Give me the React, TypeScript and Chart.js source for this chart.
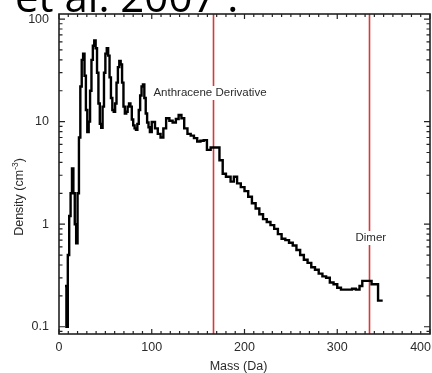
import React, { useEffect, useRef } from "react";
import { Chart, registerables } from "chart.js";

Chart.register(...registerables);

// Left bin edges (Da) of the mass histogram and the density in each bin (cm^-3)
const massBinEdges = [
  6.5, 8.0, 9.5, 11.0, 12.5, 14.0, 15.5, 17.0, 18.5, 20.0, 21.5, 23.0, 24.5, 26.0, 27.5, 29.0,
  30.5, 32.0, 33.5, 35.0, 36.5, 38.0, 39.5, 41.0, 42.5, 44.0, 45.5, 47.0, 48.5, 50.0, 51.5, 53.0,
  54.5, 56.0, 57.5, 59.0, 60.5, 62.0, 63.5, 65.0, 66.5, 68.0, 69.5, 71.0, 72.5, 74.0, 75.5, 77.0,
  78.5, 80.0, 81.5, 83.0, 84.5, 86.0, 87.5, 89.0, 90.5, 92.0, 93.5, 95.0, 96.5, 98.0, 100.0, 103.5,
  106.5, 109.5, 112.5, 115.5, 119.0, 122.5, 126.0, 129.0, 132.0, 135.0, 138.5, 142.0, 145.5, 149.0,
  152.5, 156.0, 159.5, 163.5, 173.0, 176.5, 180.0, 185.0, 188.5, 192.0, 196.0, 200.0, 204.0, 208.0,
  212.0, 216.0, 220.0, 224.0, 228.0, 232.0, 236.0, 240.0, 244.0, 248.0, 252.0, 256.0, 260.0, 264.0,
  268.0, 272.0, 276.0, 280.0, 284.0, 288.0, 292.0, 296.0, 300.0, 304.0, 310.0, 316.0, 320.0, 324.0,
  327.0, 337.0, 344.0,
];
const densityValues = [
  0.25, 0.1, 0.5, 1.2, 2.0, 3.5, 2.0, 1.0, 0.65, 2.0, 7, 22, 40, 46, 28, 13,
  7.9, 10, 20, 40, 55, 62, 52, 30, 15, 9.5, 8.7, 14, 30, 46, 52, 44,
  27, 17, 13, 12.5, 15, 24, 34, 39, 36, 24, 14, 12, 12.5, 14, 15, 14,
  10.5, 9.2, 8.6, 8.3, 9.5, 13, 18, 22, 23, 17, 12, 9.8, 8.8, 7.9, 9.9, 8.6,
  7.6, 7.0, 8.6, 10.8, 10.2, 9.8, 10.6, 11.6, 10.8, 8.6, 7.6, 7.3, 6.9, 6.4,
  6.5, 6.6, 5.3, 5.6, 4.2, 3.1, 2.9, 2.6, 2.9, 2.5, 2.3, 2.1, 1.85, 1.6,
  1.42, 1.25, 1.12, 1.05, 0.98, 0.9, 0.8, 0.72, 0.7, 0.66, 0.62, 0.56, 0.5, 0.45,
  0.42, 0.38, 0.36, 0.33, 0.31, 0.3, 0.27, 0.26, 0.24, 0.23, 0.23, 0.235, 0.23, 0.25,
  0.28, 0.26, 0.18,
];
const lastBinEnd = 349;

// Reference masses marked with vertical lines
const markerMasses = [166.5, 334];
const markerLabels = ["Anthracene Derivative", "Dimer"];

// Axis ticks
const massTicks = [0, 100, 200, 300, 400];
const densityTicks = [0.1, 1, 10, 100];
const massRange = [0, 400];
const densityRange = [0.085, 112];

const headingText = "et al. 2007 .";
const xTitle = "Mass (Da)";
const yTitleMain = "Density (cm";
const yTitleSup = "-3";

const SANS = "'Liberation Sans', Arial, sans-serif";
const TEXT = "#2b2b2b";
const AXIS = "#222";
const MARKER = "#d8383a";

const histogramPoints = () => {
  const pts = massBinEdges.map((m, i) => ({ x: m, y: densityValues[i] }));
  pts.push({ x: lastBinEnd, y: densityValues[densityValues.length - 1] });
  return pts;
};

const decorPlugin = {
  id: "decor",
  beforeDatasetsDraw(chart: any) {
    const { ctx, chartArea: a, scales } = chart;
    const xs = scales.x;
    ctx.save();
    // marker lines
    ctx.strokeStyle = MARKER;
    ctx.lineWidth = 1.6;
    markerMasses.forEach((m) => {
      const px = Math.round(xs.getPixelForValue(m)) + 0.5;
      ctx.beginPath();
      ctx.moveTo(px, a.top);
      ctx.lineTo(px, a.bottom);
      ctx.stroke();
    });
    // marker labels on white boxes
    ctx.font = `11.5px ${SANS}`;
    ctx.textBaseline = "middle";
    const p0 = xs.getPixelForValue(markerMasses[0]);
    const p1 = xs.getPixelForValue(markerMasses[1]);
    const w0 = ctx.measureText(markerLabels[0]).width;
    const w1 = ctx.measureText(markerLabels[1]).width;
    const l0 = p0 - 60;
    const y0 = a.top + 79;
    const l1 = p1 + 2 - w1 / 2;
    const y1 = a.top + 224;
    ctx.fillStyle = "#fff";
    ctx.fillRect(l0 - 2, y0 - 7, w0 + 4, 14);
    ctx.fillRect(l1 - 2, y1 - 7, w1 + 4, 14);
    ctx.fillStyle = TEXT;
    ctx.textAlign = "left";
    ctx.fillText(markerLabels[0], l0, y0);
    ctx.fillText(markerLabels[1], l1, y1);
    ctx.restore();
  },
  afterDraw(chart: any) {
    const { ctx, chartArea: a, scales, width } = chart;
    const xs = scales.x;
    const ys = scales.y;
    ctx.save();
    // frame
    ctx.strokeStyle = AXIS;
    ctx.lineWidth = 1.6;
    ctx.strokeRect(a.left, a.top, a.right - a.left, a.bottom - a.top);
    ctx.lineWidth = 1.2;
    ctx.beginPath();
    // mass ticks, every 10 Da, longer every 100 Da
    for (let m = massRange[0]; m <= massRange[1]; m += 10) {
      const px = xs.getPixelForValue(m);
      const len = m % 100 === 0 ? 5 : 3;
      ctx.moveTo(px, a.bottom);
      ctx.lineTo(px, a.bottom - len);
      ctx.moveTo(px, a.top);
      ctx.lineTo(px, a.top + len);
    }
    // density ticks, 1..9 per decade
    for (let e = -2; e <= 2; e++) {
      for (let k = 1; k <= 9; k++) {
        const v = k * Math.pow(10, e);
        if (v < densityRange[0] || v > densityRange[1]) continue;
        const py = ys.getPixelForValue(v);
        const len = k === 1 ? 6 : 3.5;
        ctx.moveTo(a.left, py);
        ctx.lineTo(a.left + len, py);
        ctx.moveTo(a.right, py);
        ctx.lineTo(a.right - len, py);
      }
    }
    ctx.stroke();

    // mass tick labels
    ctx.fillStyle = TEXT;
    ctx.font = `12.5px ${SANS}`;
    ctx.textAlign = "center";
    ctx.textBaseline = "middle";
    massTicks.forEach((m) => {
      const label = String(m);
      const w = ctx.measureText(label).width;
      const px = Math.min(xs.getPixelForValue(m), width - w / 2 - 1);
      ctx.fillText(label, px, a.bottom + 14);
    });

    // axis titles
    ctx.font = `12.5px ${SANS}`;
    ctx.fillText(xTitle, (a.left + a.right) / 2 - 6, a.bottom + 33);

    ctx.save();
    ctx.translate(20, a.top + 183);
    ctx.rotate(-Math.PI / 2);
    ctx.font = `12.5px ${SANS}`;
    const wMain = ctx.measureText(yTitleMain).width;
    const wClose = ctx.measureText(")").width;
    ctx.font = `8.5px ${SANS}`;
    const wSup = ctx.measureText(yTitleSup).width;
    let cx = -(wMain + wSup + wClose) / 2;
    ctx.textAlign = "left";
    ctx.font = `12.5px ${SANS}`;
    ctx.fillText(yTitleMain, cx, 0);
    cx += wMain;
    ctx.font = `8.5px ${SANS}`;
    ctx.fillText(yTitleSup, cx, -4);
    cx += wSup;
    ctx.font = `12.5px ${SANS}`;
    ctx.fillText(")", cx, 0);
    ctx.restore();

    // heading text running off the top edge
    ctx.fillStyle = "#000";
    ctx.font = `42px 'Open Sans', sans-serif`;
    ctx.textAlign = "left";
    ctx.textBaseline = "alphabetic";
    ctx.fillText(headingText, 15, 12);
    ctx.restore();
  },
};

export default function App() {
  const canvasRef = useRef<HTMLCanvasElement | null>(null);

  useEffect(() => {
    if (!canvasRef.current) return;
    const chart = new Chart(canvasRef.current, {
      type: "line",
      data: {
        datasets: [
          {
            data: histogramPoints(),
            stepped: "before",
            borderColor: "#000",
            borderWidth: 2.4,
            pointRadius: 0,
            fill: false,
          },
        ],
      },
      options: {
        responsive: false,
        animation: false,
        events: [],
        layout: { padding: { top: 14, right: 2, left: 0, bottom: 0 } },
        plugins: {
          legend: { display: false },
          tooltip: { enabled: false },
          title: { display: false },
        },
        scales: {
          x: {
            type: "linear",
            min: massRange[0],
            max: massRange[1],
            grid: { display: false, drawTicks: false },
            border: { display: false },
            ticks: { display: false, stepSize: 100 },
            afterFit: (s: any) => {
              s.height = 39;
              s.paddingLeft = 0;
              s.paddingRight = 0;
            },
          },
          y: {
            type: "logarithmic",
            min: densityRange[0],
            max: densityRange[1],
            grid: { display: false, drawTicks: false },
            border: { display: false },
            afterBuildTicks: (s: any) => {
              s.ticks = densityTicks.map((v) => ({ value: v }));
            },
            ticks: {
              autoSkip: false,
              padding: 10,
              color: TEXT,
              font: { family: SANS, size: 12.5 },
              callback: (v: any) => String(v),
            },
            afterFit: (s: any) => {
              s.width = 59;
              s.paddingTop = 0;
              s.paddingBottom = 0;
            },
          },
        },
      },
      plugins: [decorPlugin],
    });
    return () => chart.destroy();
  }, []);

  return (
    <div style={{ position: "absolute", left: 0, top: 0, width: 432, height: 373, background: "#fff" }}>
      <canvas ref={canvasRef} width={432} height={373} style={{ display: "block" }} />
    </div>
  );
}
